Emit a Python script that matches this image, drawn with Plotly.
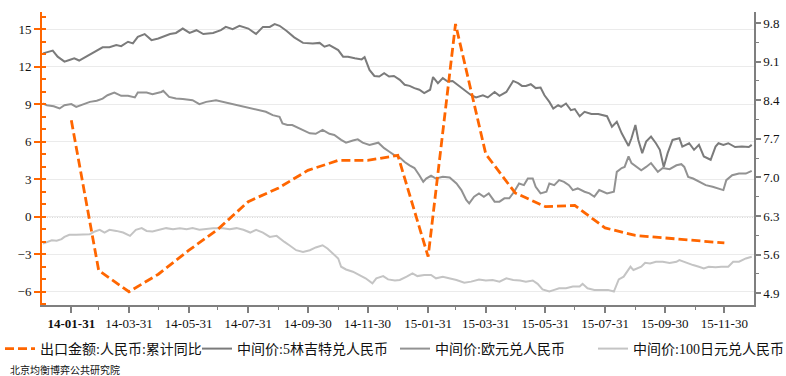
import pandas as pd
import plotly.graph_objects as go

# ---- export growth (left axis, monthly, cumulative y/y %) ----
export_dates = ["2014-01-31", "2014-02-28", "2014-03-31", "2014-04-30", "2014-05-31", "2014-06-30",
                "2014-07-31", "2014-08-31", "2014-09-30", "2014-10-31", "2014-11-30", "2014-12-31",
                "2015-01-31", "2015-02-28", "2015-03-31", "2015-04-30", "2015-05-31", "2015-06-30",
                "2015-07-31", "2015-08-31", "2015-09-30", "2015-10-31", "2015-11-30"]
export_yoy = [7.7, -4.3, -6.0, -4.6, -2.7, -1.0, 1.2, 2.3, 3.7, 4.5, 4.5, 4.9,
              -3.2, 15.4, 5.0, 1.9, 0.8, 0.9, -0.9, -1.5, -1.7, -1.9, -2.1]

# ---- central parity: 5 MYR / CNY (right axis) ----
myr_dates = ["2014-01-02", "2014-01-12", "2014-01-17", "2014-01-24", "2014-01-29", "2014-02-03", "2014-02-08",
             "2014-02-15", "2014-02-22", "2014-02-27", "2014-03-04", "2014-03-11", "2014-03-18", "2014-03-23",
             "2014-03-30", "2014-04-04", "2014-04-09", "2014-04-16", "2014-04-23", "2014-04-30", "2014-05-12",
             "2014-05-18", "2014-05-25", "2014-06-01", "2014-06-08", "2014-06-15", "2014-06-25", "2014-07-03",
             "2014-07-08", "2014-07-15", "2014-07-22", "2014-07-31", "2014-08-08", "2014-08-15", "2014-08-22",
             "2014-08-27", "2014-09-01", "2014-09-08", "2014-09-16", "2014-09-25", "2014-10-05", "2014-10-12",
             "2014-10-17", "2014-10-22", "2014-10-31", "2014-11-05", "2014-11-10", "2014-11-17", "2014-11-24",
             "2014-11-27", "2014-12-02", "2014-12-07", "2014-12-12", "2014-12-17", "2014-12-22", "2014-12-27",
             "2015-01-02", "2015-01-07", "2015-01-12", "2015-01-17", "2015-01-22", "2015-01-27", "2015-02-02",
             "2015-02-05", "2015-02-10", "2015-02-15", "2015-02-20", "2015-02-25", "2015-03-02", "2015-03-09",
             "2015-03-16", "2015-03-21", "2015-03-28", "2015-04-02", "2015-04-09", "2015-04-14", "2015-04-21",
             "2015-04-28", "2015-05-03", "2015-05-07", "2015-05-11", "2015-05-16", "2015-05-21", "2015-05-26",
             "2015-05-30", "2015-06-04", "2015-06-08", "2015-06-13", "2015-06-16", "2015-06-21", "2015-06-26",
             "2015-06-30", "2015-07-05", "2015-07-10", "2015-07-17", "2015-07-24", "2015-08-02", "2015-08-07",
             "2015-08-12", "2015-08-17", "2015-08-24", "2015-08-27", "2015-08-31", "2015-09-03", "2015-09-07",
             "2015-09-11", "2015-09-16", "2015-09-21", "2015-09-25", "2015-09-29", "2015-10-03", "2015-10-08",
             "2015-10-15", "2015-10-18", "2015-10-25", "2015-10-30", "2015-11-04", "2015-11-09", "2015-11-16",
             "2015-11-21", "2015-11-24", "2015-11-29", "2015-12-04", "2015-12-11", "2015-12-18", "2015-12-25",
             "2015-12-28"]
myr_vals = [9.25, 9.30, 9.19, 9.10, 9.13, 9.16, 9.12, 9.19, 9.26, 9.32, 9.36, 9.36, 9.40, 9.38,
            9.46, 9.43, 9.55, 9.60, 9.49, 9.52, 9.60, 9.62, 9.70, 9.62, 9.67, 9.60, 9.62, 9.67,
            9.73, 9.69, 9.75, 9.70, 9.60, 9.73, 9.73, 9.78, 9.75, 9.66, 9.54, 9.44, 9.43, 9.44,
            9.37, 9.40, 9.31, 9.19, 9.19, 9.16, 9.14, 9.18, 8.95, 8.84, 8.83, 8.89, 8.83, 8.84,
            8.77, 8.68, 8.66, 8.62, 8.59, 8.53, 8.59, 8.82, 8.71, 8.80, 8.74, 8.75, 8.68, 8.59,
            8.49, 8.45, 8.49, 8.45, 8.55, 8.48, 8.55, 8.75, 8.71, 8.66, 8.66, 8.69, 8.62, 8.63,
            8.49, 8.37, 8.25, 8.31, 8.28, 8.34, 8.22, 8.24, 8.11, 8.19, 8.15, 8.15, 8.11, 7.92,
            8.01, 7.80, 7.57, 7.71, 7.95, 7.68, 7.44, 7.65, 7.74, 7.62, 7.50, 7.19, 7.44, 7.68,
            7.71, 7.56, 7.62, 7.50, 7.59, 7.38, 7.32, 7.56, 7.62, 7.59, 7.62, 7.55, 7.56, 7.55,
            7.59]

# ---- central parity: EUR / CNY (right axis) ----
eur_dates = ["2014-01-02", "2014-01-06", "2014-01-13", "2014-01-19", "2014-01-24", "2014-01-31", "2014-02-05",
             "2014-02-12", "2014-02-19", "2014-02-26", "2014-03-04", "2014-03-09", "2014-03-16", "2014-03-23",
             "2014-03-30", "2014-04-06", "2014-04-09", "2014-04-18", "2014-04-24", "2014-05-03", "2014-05-05",
             "2014-05-11", "2014-05-18", "2014-05-25", "2014-06-04", "2014-06-11", "2014-06-18", "2014-06-28",
             "2014-07-05", "2014-07-12", "2014-07-19", "2014-07-29", "2014-08-05", "2014-08-12", "2014-08-18",
             "2014-08-25", "2014-09-01", "2014-09-04", "2014-09-09", "2014-09-14", "2014-09-19", "2014-09-25",
             "2014-10-02", "2014-10-08", "2014-10-15", "2014-10-22", "2014-10-27", "2014-11-03", "2014-11-08",
             "2014-11-15", "2014-11-20", "2014-11-25", "2014-12-02", "2014-12-11", "2014-12-17", "2014-12-22",
             "2014-12-27", "2015-01-02", "2015-01-07", "2015-01-12", "2015-01-17", "2015-01-22", "2015-01-26",
             "2015-01-29", "2015-02-03", "2015-02-08", "2015-02-15", "2015-02-22", "2015-03-01", "2015-03-06",
             "2015-03-11", "2015-03-14", "2015-03-19", "2015-03-24", "2015-03-29", "2015-04-03", "2015-04-09",
             "2015-04-14", "2015-04-19", "2015-04-24", "2015-04-29", "2015-05-04", "2015-05-09", "2015-05-13",
             "2015-05-18", "2015-05-21", "2015-05-26", "2015-06-01", "2015-06-04", "2015-06-09", "2015-06-14",
             "2015-06-19", "2015-06-24", "2015-06-28", "2015-07-03", "2015-07-10", "2015-07-15", "2015-07-20",
             "2015-07-25", "2015-08-02", "2015-08-09", "2015-08-12", "2015-08-17", "2015-08-20", "2015-08-24",
             "2015-08-27", "2015-09-01", "2015-09-06", "2015-09-11", "2015-09-16", "2015-09-20", "2015-09-23",
             "2015-09-28", "2015-10-05", "2015-10-12", "2015-10-17", "2015-10-20", "2015-10-24", "2015-10-29",
             "2015-11-04", "2015-11-11", "2015-11-18", "2015-11-24", "2015-11-29", "2015-12-02", "2015-12-08",
             "2015-12-15", "2015-12-22", "2015-12-28"]
eur_vals = [8.34, 8.31, 8.29, 8.25, 8.31, 8.33, 8.28, 8.33, 8.37, 8.39, 8.43, 8.49, 8.54, 8.48,
            8.48, 8.45, 8.54, 8.54, 8.51, 8.55, 8.57, 8.46, 8.43, 8.42, 8.40, 8.33, 8.37, 8.40,
            8.37, 8.34, 8.31, 8.27, 8.25, 8.22, 8.19, 8.13, 8.10, 7.98, 7.95, 7.95, 7.91, 7.85,
            7.80, 7.79, 7.86, 7.79, 7.77, 7.68, 7.63, 7.67, 7.69, 7.63, 7.59, 7.63, 7.53, 7.47,
            7.41, 7.36, 7.28, 7.22, 7.17, 7.04, 6.92, 6.98, 7.03, 6.98, 7.01, 7.00, 6.89, 6.77,
            6.59, 6.53, 6.65, 6.71, 6.65, 6.71, 6.56, 6.56, 6.62, 6.62, 6.74, 6.89, 6.86, 6.98,
            6.98, 6.83, 6.71, 6.74, 6.89, 6.86, 6.95, 6.92, 6.86, 6.77, 6.80, 6.74, 6.71, 6.65,
            6.77, 6.71, 6.74, 7.10, 7.17, 7.19, 7.38, 7.26, 7.19, 7.13, 7.19, 7.26, 7.17, 7.10,
            7.17, 7.15, 7.22, 7.24, 7.19, 7.01, 6.98, 6.92, 6.86, 6.83, 6.80, 6.77, 6.95, 7.04,
            7.07, 7.07, 7.12]

# ---- central parity: 100 JPY / CNY (right axis) ----
jpy_dates = ["2014-01-02", "2014-01-06", "2014-01-11", "2014-01-16", "2014-01-21", "2014-01-24", "2014-01-29",
             "2014-02-05", "2014-02-12", "2014-02-19", "2014-02-24", "2014-03-01", "2014-03-06", "2014-03-11",
             "2014-03-18", "2014-03-25", "2014-04-01", "2014-04-07", "2014-04-13", "2014-04-18", "2014-04-24",
             "2014-05-01", "2014-05-08", "2014-05-15", "2014-05-22", "2014-05-29", "2014-06-04", "2014-06-11",
             "2014-06-18", "2014-06-25", "2014-07-05", "2014-07-12", "2014-07-19", "2014-07-26", "2014-08-02",
             "2014-08-08", "2014-08-15", "2014-08-22", "2014-08-29", "2014-09-03", "2014-09-06", "2014-09-11",
             "2014-09-18", "2014-09-25", "2014-10-02", "2014-10-08", "2014-10-15", "2014-10-20", "2014-10-25",
             "2014-10-31", "2014-11-03", "2014-11-08", "2014-11-15", "2014-11-22", "2014-11-28", "2014-12-05",
             "2014-12-09", "2014-12-16", "2014-12-21", "2014-12-28", "2015-01-02", "2015-01-09", "2015-01-15",
             "2015-01-20", "2015-01-27", "2015-02-03", "2015-02-08", "2015-02-15", "2015-02-22", "2015-03-01",
             "2015-03-09", "2015-03-16", "2015-03-24", "2015-03-31", "2015-04-07", "2015-04-14", "2015-04-21",
             "2015-04-28", "2015-05-05", "2015-05-11", "2015-05-18", "2015-05-23", "2015-05-28", "2015-06-04",
             "2015-06-09", "2015-06-14", "2015-06-21", "2015-06-28", "2015-07-05", "2015-07-08", "2015-07-13",
             "2015-07-20", "2015-07-27", "2015-08-03", "2015-08-09", "2015-08-14", "2015-08-19", "2015-08-24",
             "2015-08-26", "2015-08-29", "2015-09-03", "2015-09-06", "2015-09-10", "2015-09-15", "2015-09-21",
             "2015-09-28", "2015-10-05", "2015-10-12", "2015-10-15", "2015-10-22", "2015-10-29", "2015-11-04",
             "2015-11-09", "2015-11-14", "2015-11-21", "2015-11-27", "2015-12-04", "2015-12-09", "2015-12-15",
             "2015-12-22", "2015-12-28"]
jpy_vals = [5.80, 5.83, 5.86, 5.85, 5.88, 5.92, 5.96, 5.96, 5.96, 5.97, 6.02, 6.05, 6.00, 6.05,
            6.03, 6.00, 5.94, 6.05, 6.08, 6.03, 6.02, 6.05, 6.08, 6.06, 6.08, 6.06, 6.08, 6.05,
            6.06, 6.08, 6.08, 6.06, 6.08, 6.05, 6.00, 6.05, 6.00, 5.92, 5.94, 5.86, 5.83, 5.77,
            5.68, 5.65, 5.68, 5.73, 5.77, 5.71, 5.62, 5.53, 5.38, 5.33, 5.29, 5.23, 5.17, 5.08,
            5.17, 5.21, 5.15, 5.13, 5.14, 5.20, 5.26, 5.21, 5.23, 5.23, 5.17, 5.20, 5.17, 5.14,
            5.09, 5.11, 5.15, 5.13, 5.14, 5.11, 5.17, 5.14, 5.13, 5.11, 5.13, 5.07, 4.97, 4.93,
            4.96, 4.99, 4.99, 5.02, 5.02, 5.07, 4.99, 4.96, 4.96, 4.96, 4.93, 5.15, 5.20, 5.32,
            5.38, 5.32, 5.35, 5.38, 5.45, 5.44, 5.47, 5.47, 5.45, 5.47, 5.50, 5.45, 5.41, 5.38,
            5.35, 5.38, 5.37, 5.38, 5.38, 5.47, 5.47, 5.53, 5.56]

# ---- axis tick settings ----
x_tick_dates = list(pd.date_range("2014-01-31", "2015-11-30", freq="2ME"))
x_tick_text = [d.strftime("%y-%m-%d") for d in x_tick_dates]
x_tick_text[0] = "<b>" + x_tick_text[0] + "</b>"
x_minor_dates = list(pd.date_range("2014-01-31", "2015-12-31", freq="ME"))

ORANGE = "#FF6600"
AXIS_GREY = "#7F7F7F"
SERIF = "Liberation Serif, Times New Roman, serif"
LEGEND_FONT = "Liberation Serif, Noto Sans CJK SC, serif"

# plot area geometry (px) used to place the legend boxes and the footer
PLOT_L, PLOT_W, PLOT_B, PLOT_H = 42, 712, 305, 293

fig = go.Figure()

fig.add_trace(go.Scatter(x=myr_dates, y=myr_vals, name="中间价:5林吉特兑人民币", yaxis="y",
                         mode="lines", line=dict(color="#7B7B7B", width=2), legend="legend2"))
fig.add_trace(go.Scatter(x=eur_dates, y=eur_vals, name="中间价:欧元兑人民币", yaxis="y",
                         mode="lines", line=dict(color="#929292", width=2), legend="legend3"))
fig.add_trace(go.Scatter(x=jpy_dates, y=jpy_vals, name="中间价:100日元兑人民币", yaxis="y",
                         mode="lines", line=dict(color="#C4C4C4", width=2), legend="legend4"))
fig.add_trace(go.Scatter(x=export_dates, y=export_yoy, name="出口金额:人民币:累计同比", yaxis="y2",
                         mode="lines", line=dict(color=ORANGE, width=2.8, dash="9px,4px"), legend="legend"))

# dotted reference line at zero growth
fig.add_shape(type="line", xref="paper", x0=0, x1=1, yref="y2", y0=0, y1=0,
              line=dict(color="#111111", width=1, dash="1px,1.5px"), layer="below")

fig.add_annotation(text="北京均衡博弈公共研究院", xref="paper", yref="paper",
                   x=(8 - PLOT_L) / PLOT_W, y=(PLOT_B - 369) / PLOT_H, xanchor="left", yanchor="middle",
                   showarrow=False, font=dict(family="Noto Sans CJK SC", size=10, color="#111111"))


def legend_box(px_left):
    return dict(orientation="h", x=(px_left - PLOT_L) / PLOT_W, xanchor="left",
                y=(PLOT_B - 349) / PLOT_H, yanchor="middle",
                font=dict(family=LEGEND_FONT, size=14, color="#111111"),
                itemwidth=30, bgcolor="rgba(0,0,0,0)", borderwidth=0)


fig.update_layout(
    width=786, height=376,
    margin=dict(l=PLOT_L, r=786 - PLOT_L - PLOT_W, t=12, b=376 - PLOT_B, autoexpand=False),
    paper_bgcolor="white", plot_bgcolor="white",
    showlegend=True,
    legend=legend_box(0),
    legend2=legend_box(197),
    legend3=legend_box(395),
    legend4=legend_box(593),
    xaxis=dict(type="date", range=["2014-01-01", "2015-12-30 08:00"],
               tickmode="array", tickvals=x_tick_dates, ticktext=x_tick_text,
               ticks="outside", ticklen=6, tickwidth=1.5, tickcolor=AXIS_GREY,
               showline=True, linecolor=AXIS_GREY, linewidth=1.5, showgrid=False, zeroline=False,
               tickfont=dict(family=SERIF, size=13, color="#111111"),
               minor=dict(tickmode="array", tickvals=x_minor_dates, ticks="outside", ticklen=3,
                          tickcolor=AXIS_GREY, tickwidth=1, showgrid=False)),
    yaxis=dict(side="right", range=[4.686, 10.0], tick0=4.9, dtick=0.7, tickformat=".1f",
               ticks="outside", ticklen=5, tickwidth=1.5, tickcolor=AXIS_GREY,
               showline=True, linecolor=AXIS_GREY, linewidth=1.5, showgrid=False, zeroline=False,
               tickfont=dict(family=SERIF, size=13, color="#111111"),
               minor=dict(dtick=0.35, tick0=4.9, ticks="outside", ticklen=3, tickcolor=AXIS_GREY,
                          tickwidth=1, showgrid=False)),
    yaxis2=dict(side="left", overlaying="y", range=[-7.06, 16.36], tick0=0, dtick=3,
                ticks="outside", ticklen=6, tickwidth=2, tickcolor=ORANGE,
                showline=True, linecolor=ORANGE, linewidth=2, showgrid=True, gridcolor="#EBEBEB",
                gridwidth=1, zeroline=False,
                tickfont=dict(family=SERIF, size=13, color="#111111"),
                minor=dict(dtick=1, tick0=0, ticks="inside", ticklen=4, tickcolor=ORANGE,
                           tickwidth=1.5, showgrid=False)),
)

fig.write_html("out.html")
